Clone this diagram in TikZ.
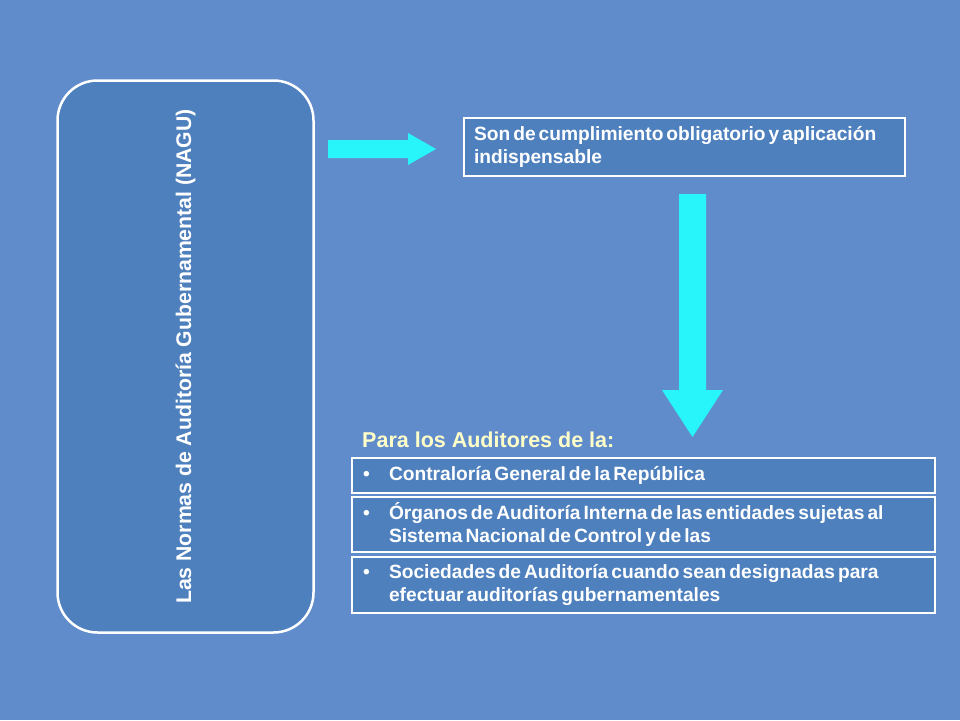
\documentclass[tikz,border=0pt]{standalone}
\usepackage{fontspec}
\setmainfont{Liberation Sans}
\definecolor{bgblue}{RGB}{96,140,204}
\definecolor{boxblue}{RGB}{78,128,190}
\definecolor{arrowcyan}{RGB}{40,245,250}
\definecolor{paletext}{RGB}{255,255,200}
\newcommand{\tightspace}{\spaceskip=3pt plus 1pt minus 1pt\relax}
\newcommand{\boxtextfont}{\fontsize{19.2}{22.5}\selectfont\bfseries}
\newcommand{\bulitem}[1]{\makebox[26pt][l]{\textbullet}\parbox[t]{535pt}{\raggedright\tightspace #1}}
\tikzset{
  bluebox/.style={draw=white, line width=2.5pt, fill=boxblue, text=white, inner sep=0pt},
  boxfont/.style={font=\boxtextfont},
  listbox/.style={bluebox, boxfont, minimum width=583pt, text width=561pt, inner xsep=11pt, align=left},
  blockarrow/.style={fill=arrowcyan, draw=none}
}
\begin{document}
\begin{tikzpicture}[x=1pt,y=-1pt]
\fill[bgblue] (0,0) rectangle (960,720);
\useasboundingbox (0,0) rectangle (960,720);

% left rounded box
\node[bluebox, rounded corners=40pt, minimum width=256pt, minimum height=552pt] (nagu) at (185.5,356.5)
  {\rotatebox{90}{\fontsize{21.2}{24}\selectfont\bfseries Las Normas de Auditoría Gubernamental (NAGU)}};

% right arrow
\fill[blockarrow] (328,140) -- (408,140) -- (408,133) -- (436,149) -- (408,165) -- (408,158) -- (328,158) -- cycle;

% top box
\node[bluebox, boxfont, minimum height=58pt, text width=421pt, inner xsep=10pt, align=left] (son) at (684.5,147)
  {\tightspace Son de cumplimiento obligatorio y aplicación\\indispensable};

% down arrow
\fill[blockarrow] (679,194) -- (706,194) -- (706,390) -- (723,390) -- (692.5,437) -- (662,390) -- (679,390) -- cycle;

% label
\node[anchor=base west, text=paletext, font=\fontsize{21.5}{24}\selectfont\bfseries, inner sep=0pt] (para) at (362,447)
  {Para los Auditores de la:};

% list boxes
\node[listbox, minimum height=35pt] (cgr) at (643.5,475.5)
  {\bulitem{Contraloría General de la República}};
\node[listbox, minimum height=55pt] (oai) at (643.5,524.5)
  {\bulitem{Órganos de Auditoría Interna de las entidades sujetas al\\Sistema Nacional de Control y de las}};
\node[listbox, minimum height=56pt] (soa) at (643.5,585)
  {\bulitem{Sociedades de Auditoría cuando sean designadas para\\efectuar auditorías gubernamentales}};
\end{tikzpicture}
\end{document}
